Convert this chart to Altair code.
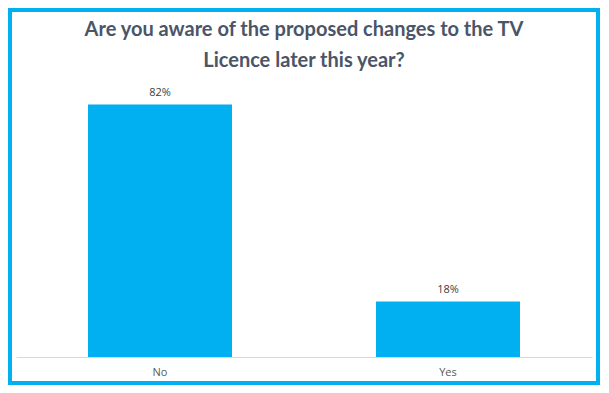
import altair as alt
import pandas as pd

answers = ["No", "Yes"]
shares = [82, 18]
labels = ["82%", "18%"]

title_lines = ["Are you aware of the proposed  changes to the TV", "Licence later this year?"]

df = pd.DataFrame({"answer": answers, "share": shares, "label": labels})

BLUE = "#00B0F0"

x_enc = alt.X("answer:N", sort=answers,
              scale=alt.Scale(paddingInner=0.5, paddingOuter=0.25),
              axis=alt.Axis(title=None, labelAngle=0, ticks=False, domainColor="#D9D9D9",
                            domainWidth=1, labelColor="#595959", labelFont="Open Sans",
                            labelFontSize=11, labelPadding=9, zindex=1))
y_enc = alt.Y("share:Q", scale=alt.Scale(domain=[0, 90]), axis=None)

frame = alt.Chart(pd.DataFrame({"f": [0]})).mark_rect(color="white").encode(
    x=alt.value(-4), x2=alt.value(580), y=alt.value(-68), y2=alt.value(301)
)

bars = alt.Chart(df).mark_bar(color=BLUE).encode(x=x_enc, y=y_enc)

text = alt.Chart(df).mark_text(baseline="bottom", dy=-7, font="Open Sans", fontSize=11,
                               color="#404040").encode(x=x_enc, y=y_enc, text="label:N")

chart = alt.layer(frame, bars, text).properties(
    width=576, height=277,
    autosize=alt.AutoSizeParams(type="none"),
    padding={"left": 8, "right": 8, "top": 72, "bottom": 28},
    background=BLUE,
    title=alt.TitleParams(text=title_lines, font="Lato", fontSize=20, fontWeight="bold",
                          color="#4A5568", lineHeight=31, anchor="middle", offset=-59),
).configure_view(stroke=None)

chart.save("out.html", embed_options={"renderer": "svg", "actions": False})
